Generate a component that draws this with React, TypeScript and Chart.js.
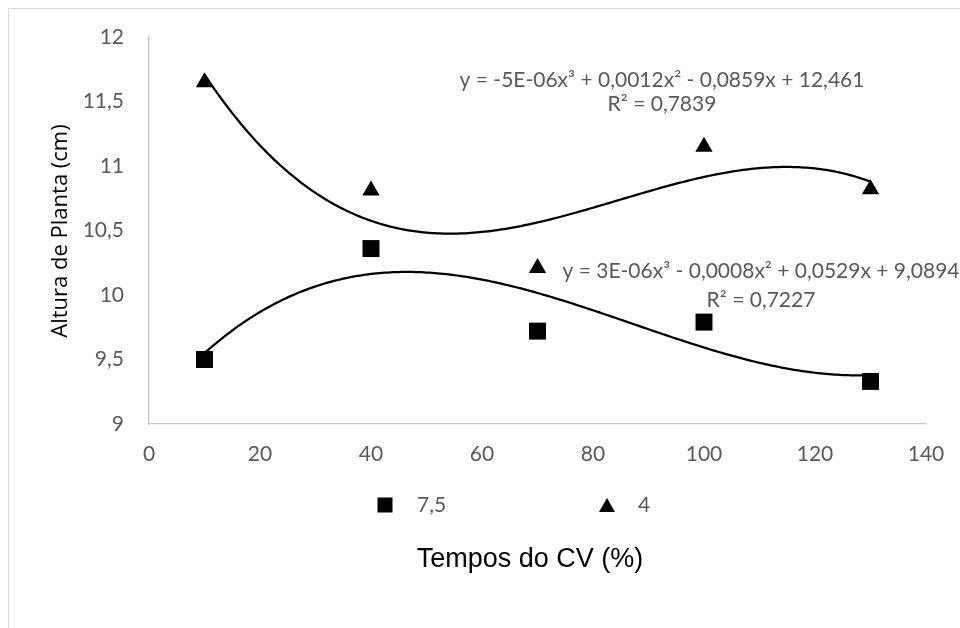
import React, { useEffect, useRef } from 'react';
import { Chart, registerables } from 'chart.js';

Chart.register(...registerables);

// ---- data ----
const X_VALUES = [10, 40, 70, 100, 130];
const SERIES_75 = [9.5, 10.36, 9.72, 9.79, 9.33];
const SERIES_4 = [11.65, 10.81, 10.21, 11.15, 10.82];
const SERIES_LABELS = ['7,5', '4'];
const X_MIN = 0;
const X_MAX = 140;
const X_STEP = 20;
const Y_MIN = 9;
const Y_MAX = 12;
const Y_STEP = 0.5;
const EQ_4 = ['y = -5E-06x³ + 0,0012x² - 0,0859x + 12,461', 'R² = 0,7839'];
const EQ_75 = ['y = 3E-06x³ - 0,0008x² + 0,0529x + 9,0894', 'R² = 0,7227'];
const X_TITLE = 'Tempos do CV (%)';
const Y_TITLE = 'Altura de Planta (cm)';

const TICK_FONT = 'Lato';
const GRAY = '#595959';

// least-squares cubic trendline (as the spreadsheet does)
function cubicFit(xs: number[], ys: number[]) {
  const cx = 70, sx = 30;
  const n = 4;
  const A: number[][] = Array.from({ length: n }, () => new Array(n + 1).fill(0));
  xs.forEach((x, k) => {
    const t = (x - cx) / sx;
    const p = [1, t, t * t, t * t * t];
    for (let i = 0; i < n; i++) {
      for (let j = 0; j < n; j++) A[i][j] += p[i] * p[j];
      A[i][n] += p[i] * ys[k];
    }
  });
  for (let i = 0; i < n; i++) {
    let piv = i;
    for (let r = i + 1; r < n; r++) if (Math.abs(A[r][i]) > Math.abs(A[piv][i])) piv = r;
    [A[i], A[piv]] = [A[piv], A[i]];
    for (let r = 0; r < n; r++) {
      if (r === i) continue;
      const f = A[r][i] / A[i][i];
      for (let c = i; c <= n; c++) A[r][c] -= f * A[i][c];
    }
  }
  const coef = A.map((row, i) => row[n] / row[i]);
  return (x: number) => {
    const t = (x - cx) / sx;
    return coef[0] + coef[1] * t + coef[2] * t * t + coef[3] * t * t * t;
  };
}

function trend(xs: number[], ys: number[]) {
  const f = cubicFit(xs, ys);
  const pts: { x: number; y: number }[] = [];
  const a = xs[0], b = xs[xs.length - 1];
  for (let x = a; x <= b + 1e-9; x += 0.5) pts.push({ x, y: f(x) });
  return pts;
}

const extras = {
  id: 'extras',
  afterDraw(chart: any) {
    const ctx = chart.ctx as CanvasRenderingContext2D;
    ctx.save();
    // outer chart border
    ctx.strokeStyle = '#d9d9d9';
    ctx.lineWidth = 1;
    ctx.beginPath();
    ctx.moveTo(8.5, 640);
    ctx.lineTo(8.5, 8.5);
    ctx.lineTo(970, 8.5);
    ctx.stroke();

    // y title
    ctx.save();
    ctx.translate(61, 231);
    ctx.rotate(-Math.PI / 2);
    ctx.font = '22px "Open Sans"';
    ctx.fillStyle = '#000';
    ctx.textAlign = 'center';
    ctx.textBaseline = 'middle';
    ctx.fillText(Y_TITLE, 0, 0);
    ctx.restore();

    // x title
    ctx.font = '27px "Liberation Sans"';
    ctx.fillStyle = '#000';
    ctx.textAlign = 'center';
    ctx.textBaseline = 'middle';
    ctx.fillText(X_TITLE, 530, 560);

    // equations
    ctx.font = `21px ${TICK_FONT}`;
    ctx.fillStyle = GRAY;
    ctx.fillText(EQ_4[0], 662, 80);
    ctx.fillText(EQ_4[1], 662, 104);
    ctx.fillText(EQ_75[0], 761, 271);
    ctx.fillText(EQ_75[1], 761, 300);

    // legend
    ctx.fillStyle = '#000';
    ctx.fillRect(385 - 7.5, 505 - 7.5, 15, 15);
    ctx.beginPath();
    ctx.moveTo(607, 498);
    ctx.lineTo(615, 512);
    ctx.lineTo(599, 512);
    ctx.closePath();
    ctx.fill();
    ctx.fillStyle = GRAY;
    ctx.textAlign = 'left';
    ctx.font = `21px ${TICK_FONT}`;
    ctx.fillText(SERIES_LABELS[0], 417, 505);
    ctx.fillText(SERIES_LABELS[1], 638, 505);
    ctx.restore();
  },
};

export default function App() {
  const ref = useRef<HTMLCanvasElement | null>(null);
  useEffect(() => {
    if (!ref.current) return;
    const ptsA = X_VALUES.map((x, i) => ({ x, y: SERIES_75[i] }));
    const ptsB = X_VALUES.map((x, i) => ({ x, y: SERIES_4[i] }));
    const chart = new Chart(ref.current, {
      type: 'scatter',
      data: {
        datasets: [
          {
            label: SERIES_LABELS[0],
            data: ptsA,
            pointStyle: 'rect',
            pointRadius: 12,
            backgroundColor: '#000',
            borderColor: '#000',
            borderWidth: 0,
          },
          {
            label: SERIES_LABELS[1],
            data: ptsB,
            pointStyle: 'triangle',
            pointRadius: 10,
            backgroundColor: '#000',
            borderColor: '#000',
            borderWidth: 0,
          },
          {
            label: 'trend ' + SERIES_LABELS[0],
            data: trend(X_VALUES, SERIES_75),
            showLine: true,
            pointRadius: 0,
            borderColor: '#000',
            borderWidth: 2.25,
            tension: 0,
          },
          {
            label: 'trend ' + SERIES_LABELS[1],
            data: trend(X_VALUES, SERIES_4),
            showLine: true,
            pointRadius: 0,
            borderColor: '#000',
            borderWidth: 2.25,
            tension: 0,
          },
        ],
      },
      options: {
        responsive: false,
        animation: false,
        layout: { padding: { left: 0, top: 37, right: 34, bottom: 0 } },
        plugins: { legend: { display: false }, tooltip: { enabled: false } },
        scales: {
          x: {
            type: 'linear',
            min: X_MIN,
            max: X_MAX,
            ticks: {
              stepSize: X_STEP,
              color: GRAY,
              font: { family: TICK_FONT, size: 21 },
              padding: 10,
              maxRotation: 0,
            },
            grid: { display: false },
            border: { display: true, color: '#c6c6c6', width: 1.3 },
            afterFit: (s: any) => {
              s.height = 204;
            },
          },
          y: {
            min: Y_MIN,
            max: Y_MAX,
            ticks: {
              stepSize: Y_STEP,
              color: GRAY,
              font: { family: TICK_FONT, size: 21 },
              padding: 17,
              callback: (v: any) => String(v).replace('.', ','),
            },
            grid: { display: false },
            border: { display: true, color: '#c6c6c6', width: 1.3 },
            afterFit: (s: any) => {
              s.width = 149;
            },
          },
        },
      },
      plugins: [extras],
    });
    return () => chart.destroy();
  }, []);
  return (
    <div style={{ position: 'fixed', left: 0, top: 0, width: 960, height: 628, background: '#fff' }}>
      <canvas ref={ref} width={960} height={628} style={{ display: 'block' }} />
    </div>
  );
}
